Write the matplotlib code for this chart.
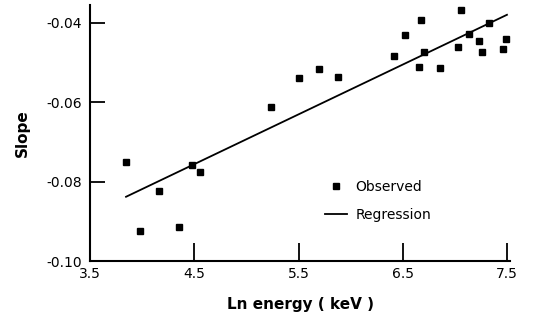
import matplotlib
matplotlib.use('Agg')
import matplotlib.pyplot as plt

# valores
ln_energia = [3.845, 3.98, 4.16, 4.35, 4.48, 4.55, 5.24, 5.50, 5.70, 5.88,
              6.42, 6.52, 6.66, 6.68, 6.70, 6.86, 7.03, 7.06, 7.14, 7.23,
              7.26, 7.33, 7.46, 7.49]
slope = [-0.0751, -0.0924, -0.0824, -0.0915, -0.0758, -0.0776, -0.0613, -0.0539,
         -0.0517, -0.0536, -0.0483, -0.0432, -0.0512, -0.0393, -0.0474, -0.0513,
         -0.0460, -0.0368, -0.0429, -0.0447, -0.0474, -0.0401, -0.0465, -0.0441]

reg_x = [3.845, 7.5]
reg_y = [-0.0838, -0.0380]

x_ticks = [3.5, 4.5, 5.5, 6.5, 7.5]
y_ticks = [-0.10, -0.08, -0.06, -0.04]
y_tick_labels = ["-0.10", "-0.08", "-0.06", "-0.04"]

plt.rcParams['font.family'] = ['DejaVu Sans']

fig = plt.figure(figsize=(5.33, 3.24), dpi=100)
ax = fig.add_axes([0.169, 0.194, 0.788, 0.791])

ax.plot(ln_energia, slope, 's', color='black', markersize=5, label="Observed")
ax.plot(reg_x, reg_y, '-', color='black', linewidth=1.3, label="Regression")

ax.set_xlim(3.5, 7.53)
ax.set_ylim(-0.10, -0.0355)
ax.set_xticks(x_ticks)
ax.set_xticklabels([str(v) for v in x_ticks])
ax.set_yticks(y_ticks)
ax.set_yticklabels(y_tick_labels)

ax.spines['top'].set_visible(False)
ax.spines['right'].set_visible(False)
ax.spines['left'].set_linewidth(1.5)
ax.spines['bottom'].set_linewidth(1.5)
ax.tick_params(axis='x', direction='in', length=13, width=1.3, labelsize=10, pad=4)
ax.tick_params(axis='y', direction='in', length=11, width=1.3, labelsize=10, pad=6)

ax.set_xlabel("Ln energy ( keV )", fontsize=11, fontweight='bold', labelpad=12)
ax.set_ylabel("Slope", fontsize=11, fontweight='bold', labelpad=12)

ax.legend(loc='center left', bbox_to_anchor=(0.53, 0.235), frameon=False,
          fontsize=10, handlelength=1.6, handletextpad=0.6, labelspacing=1.0,
          markerscale=0.8)

plt.savefig("out.png", dpi=100)
